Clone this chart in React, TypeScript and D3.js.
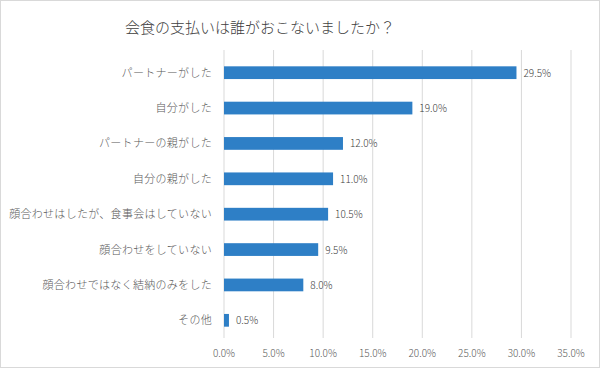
import React from "react";
import * as d3 from "d3";

const title = "会食の支払いは誰がおこないましたか？";
const categories = [
  "パートナーがした",
  "自分がした",
  "パートナーの親がした",
  "自分の親がした",
  "顔合わせはしたが、食事会はしていない",
  "顔合わせをしていない",
  "顔合わせではなく結納のみをした",
  "その他",
];
const values = [29.5, 19.0, 12.0, 11.0, 10.5, 9.5, 8.0, 0.5];
const ticks = [0, 5, 10, 15, 20, 25, 30, 35];

const W = 600, H = 368;
const left = 224, right = 571, top = 55, bottom = 338;
const font = "'Noto Sans CJK JP', 'Noto Sans', sans-serif";

export default function App() {
  const x = d3.scaleLinear().domain([0, 35]).range([left, right]);
  const y = d3.scaleBand<string>().domain(categories).range([top, bottom]).paddingInner(0.64).paddingOuter(0.32);
  return (
    <svg width={W} height={H} style={{ position: "absolute", left: 0, top: 0, background: "#fff" }}>
      <rect x={0.5} y={0.5} width={W - 1} height={H - 1} fill="#fff" stroke="#d9d9d9" />
      <text x={260} y={33} textAnchor="middle" fontFamily={font} fontSize={15} fontWeight={300} fill="#404040">{title}</text>
      {ticks.map((t) => (
        <g key={t}>
          <line x1={x(t)} x2={x(t)} y1={top - 5} y2={bottom} stroke="#d9d9d9" strokeWidth={1} />
          <text x={x(t)} y={357} textAnchor="middle" fontFamily={font} fontSize={10} fontWeight={300} fill="#595959">{t.toFixed(1)}%</text>
        </g>
      ))}
      {categories.map((c, i) => {
        const yy = y(c)!;
        const h = y.bandwidth();
        return (
          <g key={c}>
            <rect x={x(0)} y={yy} width={x(values[i]) - x(0)} height={h} fill="#2e7fc6" />
            <text x={212} y={yy + h / 2 + 4} textAnchor="end" fontFamily={font} fontSize={11} fontWeight={300} letterSpacing={0.3} fill="#595959">{c}</text>
            <text x={x(values[i]) + 7} y={yy + h / 2 + 4} fontFamily={font} fontSize={10} fontWeight={300} fill="#404040">{values[i].toFixed(1)}%</text>
          </g>
        );
      })}
    </svg>
  );
}
